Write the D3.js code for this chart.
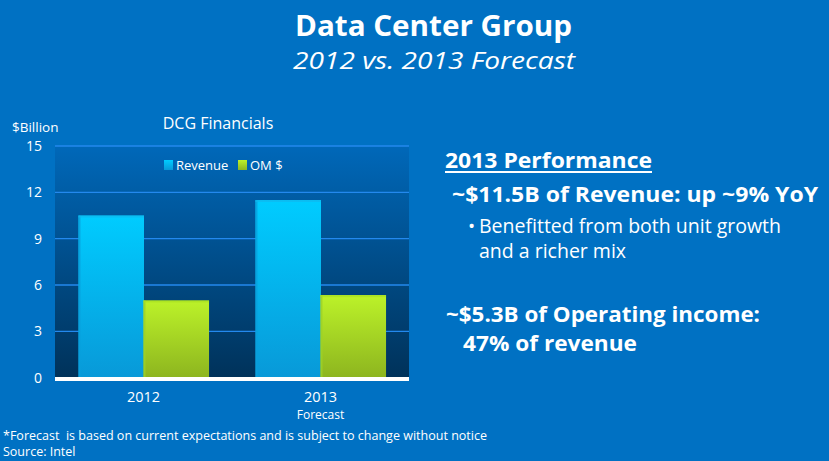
<!DOCTYPE html>
<html>
<head>
<meta charset="utf-8">
<script src="https://cdn.jsdelivr.net/npm/d3@7"></script>
<style>
  html, body { margin: 0; padding: 0; background: #0071c3; }
  svg { display: block; }
  text { font-family: "Open Sans", "DejaVu Sans", sans-serif; fill: #ffffff; }
</style>
</head>
<body>
<script>
// ---- data ----
const categories = ["2012", "2013"];
const categorySubLabels = ["", "Forecast"];
const seriesNames = ["Revenue", "OM $"];
const revenue = [10.5, 11.5];
const omDollars = [5.0, 5.35];
const yTicks = [0, 3, 6, 9, 12, 15];

const W = 829, H = 461;
const svg = d3.select("body").append("svg").attr("width", W).attr("height", H);

const defs = svg.append("defs");
const bgGrad = defs.append("linearGradient").attr("id", "plotbg").attr("x1", 0).attr("y1", 0).attr("x2", 0).attr("y2", 1);
bgGrad.append("stop").attr("offset", "0%").attr("stop-color", "#0068b9");
bgGrad.append("stop").attr("offset", "100%").attr("stop-color", "#00325a");
const revGrad = defs.append("linearGradient").attr("id", "revgrad").attr("x1", 0).attr("y1", 0).attr("x2", 0).attr("y2", 1);
revGrad.append("stop").attr("offset", "0%").attr("stop-color", "#00ccff");
revGrad.append("stop").attr("offset", "100%").attr("stop-color", "#0899d8");
const omGrad = defs.append("linearGradient").attr("id", "omgrad").attr("x1", 0).attr("y1", 0).attr("x2", 0).attr("y2", 1);
omGrad.append("stop").attr("offset", "0%").attr("stop-color", "#bcf229");
omGrad.append("stop").attr("offset", "100%").attr("stop-color", "#8db51f");

// background
svg.append("rect").attr("width", W).attr("height", H).attr("fill", "#0071c3");

// helper: text stretched to a measured width
function fitText(g, x, yb, size, weight, style, width, str) {
  const t = g.append("text").attr("x", x).attr("y", yb)
    .style("font-size", size + "px").style("font-weight", weight).style("font-style", style)
    .text(str);
  if (width) t.attr("textLength", width).attr("lengthAdjust", "spacingAndGlyphs");
  return t;
}

// ---- titles ----
fitText(svg, 295, 36, 28, "bold", "normal", 277, "Data Center Group");
fitText(svg, 293, 68.5, 24, "normal", "italic", 282, "2012 vs. 2013 Forecast");

// ---- chart ----
const plot = { left: 55, right: 409, top: 146, bottom: 377.7 };
const x0 = d3.scaleBand().domain(categories).range([plot.left, plot.right]).paddingInner(0).paddingOuter(0);
const groupW = x0.bandwidth() * 0.735;
const x1 = d3.scaleBand().domain(seriesNames).range([0, groupW]).padding(0);
const y = d3.scaleLinear().domain([0, 15]).range([plot.bottom, plot.top]);

svg.append("rect").attr("x", plot.left).attr("y", plot.top)
  .attr("width", plot.right - plot.left).attr("height", plot.bottom - plot.top)
  .attr("fill", "url(#plotbg)");

// gridlines
svg.append("g").selectAll("line").data(yTicks.filter(d => d > 0)).join("line")
  .attr("x1", plot.left).attr("x2", plot.right)
  .attr("y1", d => y(d)).attr("y2", d => y(d))
  .attr("stroke", "#2389ee").attr("stroke-width", 1.3);

// y axis labels
const yAxis = d3.axisLeft(y).tickValues(yTicks).tickSize(0).tickPadding(13);
const yg = svg.append("g").attr("transform", `translate(${plot.left},0)`).call(yAxis);
yg.select(".domain").remove();
yg.selectAll("text").style("font-size", "14px").style("font-family", "'Open Sans', sans-serif").attr("fill", "#fff");

// bars
const rows = categories.map((c, i) => ({ cat: c, vals: [
  { s: seriesNames[0], v: revenue[i], fill: "url(#revgrad)", edge: "#0a9fdc", top: "#10b8ee" },
  { s: seriesNames[1], v: omDollars[i], fill: "url(#omgrad)", edge: "#9ed128", top: "#a8df22" }
]}));
const grp = svg.append("g").selectAll("g").data(rows).join("g")
  .attr("transform", d => `translate(${x0(d.cat) + (x0.bandwidth() - groupW) / 2},0)`);
grp.selectAll("rect.bar").data(d => d.vals).join("rect").attr("class", "bar")
  .attr("x", d => x1(d.s)).attr("width", x1.bandwidth() + 0.5)
  .attr("y", d => y(d.v)).attr("height", d => y(0) - y(d.v))
  .attr("fill", d => d.fill);
grp.selectAll("rect.edge").data(d => d.vals).join("rect").attr("class", "edge")
  .attr("x", d => x1(d.s)).attr("width", 2)
  .attr("y", d => y(d.v)).attr("height", d => y(0) - y(d.v))
  .attr("fill", d => d.edge).attr("opacity", 0.8);
grp.selectAll("rect.topedge").data(d => d.vals).join("rect").attr("class", "topedge")
  .attr("x", d => x1(d.s)).attr("width", x1.bandwidth() + 0.5)
  .attr("y", d => y(d.v)).attr("height", 2)
  .attr("fill", d => d.top).attr("opacity", 0.7);

// baseline
svg.append("rect").attr("x", plot.left).attr("y", 377).attr("width", plot.right - plot.left).attr("height", 4).attr("fill", "#ffffff");

// x labels
const xl = svg.append("g").selectAll("g").data(categories).join("g");
xl.append("text").attr("x", d => x0(d) + x0.bandwidth() / 2).attr("y", 402)
  .attr("text-anchor", "middle").style("font-size", "14.5px").text(d => d);
xl.append("text").attr("x", d => x0(d) + x0.bandwidth() / 2).attr("y", 419)
  .attr("text-anchor", "middle").style("font-size", "12px").text((d, i) => categorySubLabels[i]);

// chart title and unit
svg.append("text").attr("x", 218).attr("y", 129).attr("text-anchor", "middle").style("font-size", "16px").text("DCG Financials");
svg.append("text").attr("x", 12).attr("y", 132).style("font-size", "13.5px").text("$Billion");

// legend
const legendColors = ["url(#revgrad)", "url(#omgrad)"];
const legendX = [164, 238];
const lg = svg.append("g").selectAll("g").data(seriesNames).join("g")
  .attr("transform", (d, i) => `translate(${legendX[i]},160)`);
lg.append("rect").attr("width", 9).attr("height", 10).attr("fill", (d, i) => legendColors[i]);
lg.append("text").attr("x", 12).attr("y", 10).style("font-size", "13px").text(d => d);

// footnote
fitText(svg, 3, 440, 12.5, "normal", "normal", 484,
  "*Forecast  is based on current expectations and is subject to change without notice").attr("xml:space", "preserve");
fitText(svg, 3, 456, 12.5, "normal", "normal", 0, "Source: Intel");

// right side text
const rt = svg.append("g");
fitText(rt, 445, 168, 22, "bold", "normal", 207, "2013 Performance");
rt.append("rect").attr("x", 445).attr("y", 171).attr("width", 207).attr("height", 2).attr("fill", "#fff");
fitText(rt, 452, 202, 22, "bold", "normal", 366, "~$11.5B of Revenue: up ~9% YoY");
rt.append("text").attr("x", 468).attr("y", 233).style("font-size", "19px").text("•");
fitText(rt, 479, 233, 19.5, "normal", "normal", 302, "Benefitted from both unit growth");
fitText(rt, 479, 258, 19.5, "normal", "normal", 0, "and a richer mix");
fitText(rt, 446, 322, 22, "bold", "normal", 314, "~$5.3B of Operating income:");
fitText(rt, 463, 351, 22, "bold", "normal", 174, "47% of revenue");
</script>
</body>
</html>
